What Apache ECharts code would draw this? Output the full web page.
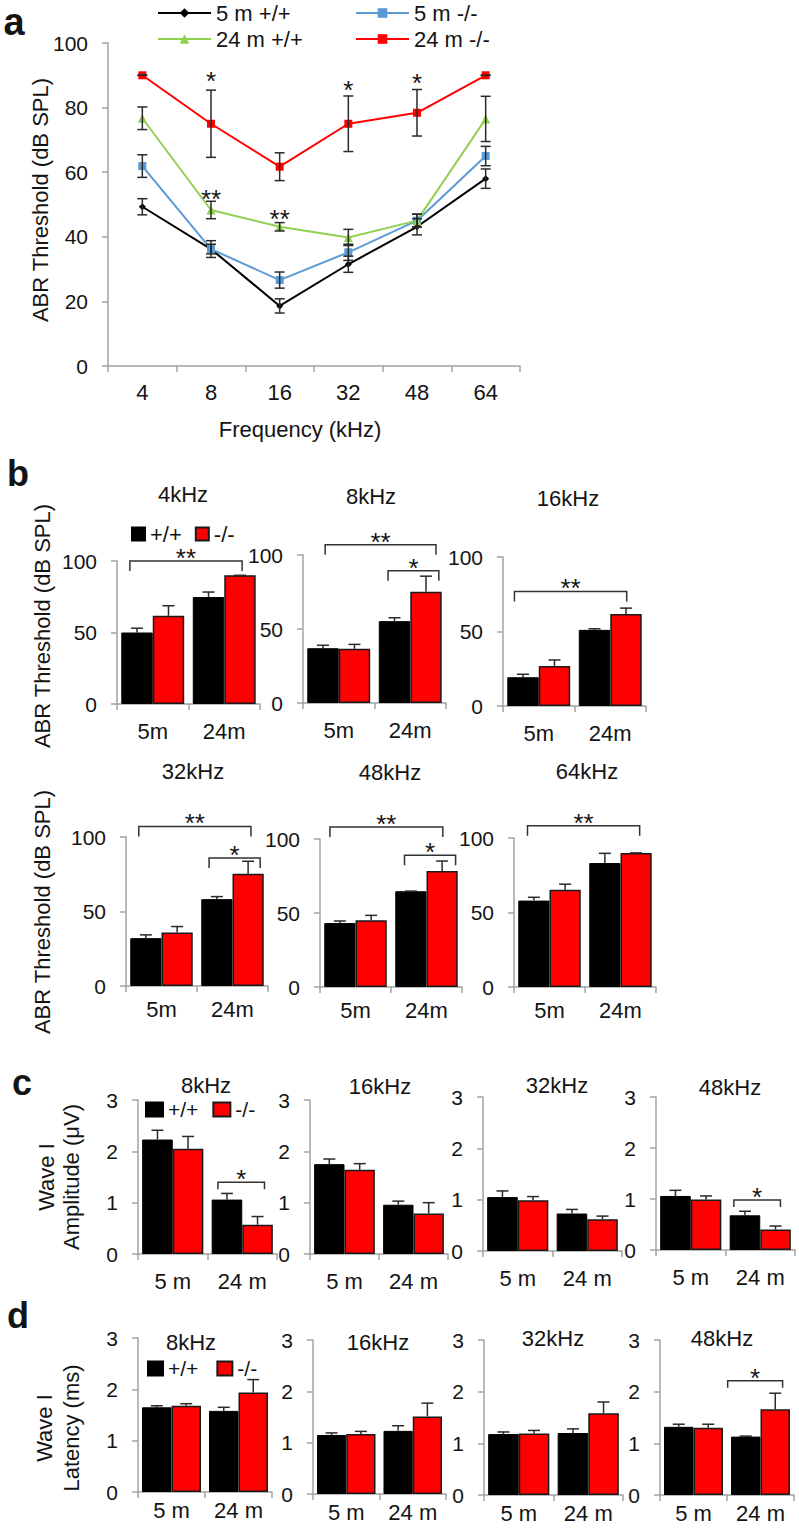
<!DOCTYPE html>
<html><head><meta charset="utf-8">
<script src="https://cdn.jsdelivr.net/npm/echarts/dist/echarts.min.js"></script>
<style>html,body{margin:0;padding:0;background:#fff}#c{width:799px;height:1533px}</style>
</head><body><div id="c"></div>
<script>
// ================= DATA =================
// Panel a: ABR threshold vs frequency
const freqA = ['4', '8', '16', '32', '48', '64'];
const a_wt5 = [49.3, 36.2, 18.6, 31.5, 43.1, 58.0];
const a_wt5Err = [2.5, 1.5, 2.2, 2.5, 2.5, 3.0];
const a_ko5 = [61.9, 36.2, 26.6, 35.2, 45.0, 65.0];
const a_ko5Err = [3.5, 2.6, 2.5, 2.5, 2.0, 3.0];
const a_wt24 = [76.7, 48.3, 43.1, 39.8, 45.0, 76.5];
const a_wt24Err = [3.5, 2.7, 1.3, 2.5, 2.0, 7.0];
const a_ko24 = [90, 75.0, 61.7, 75.0, 78.4, 90];
const a_ko24Err = [0, 10.4, 4.3, 8.6, 7.2, 0];
// significance marks in panel a: [category index, value, text]
const aStars = [[1, 90.1, '*'], [3, 87.3, '*'], [4, 89.5, '*'], [1, 53.6, '**'], [2, 47.5, '**']];

// Panel b: ABR threshold per frequency, by age
const agesB = ['5m', '24m'];
const bFreqs = ['4kHz', '8kHz', '16kHz', '32kHz', '48kHz', '64kHz'];
const bWT = [[50.0, 74.8], [37.0, 55.3], [19.3, 51.1], [32.1, 58.3], [43.2, 64.7], [58.0, 83.2]];
const bWTErr = [[3.0, 3.5], [2.0, 2.3], [2.0, 0.7], [2.2, 1.7], [1.4, 0.1], [2.2, 6.5]];
const bKO = [[61.7, 90.0], [36.6, 75.2], [26.9, 61.7], [35.9, 75.3], [45.1, 78.4], [65.2, 90.0]];
const bKOErr = [[7.0, 0], [3.0, 10.5], [4.0, 4.0], [4.0, 8.4], [3.3, 6.7], [3.8, 0]];
// brackets: [from (category units), to (category units), value, text]
const bBrackets = [
  [[-0.32, 1.25, 100, '**']],
  [[-0.19, 1.36, 107, '**'], [0.69, 1.40, 89.4, '*']],
  [[-0.34, 1.23, 76.9, '**']],
  [[-0.32, 1.26, 107.1, '**'], [0.67, 1.39, 85.9, '*']],
  [[-0.36, 1.23, 108.1, '**'], [0.69, 1.41, 89.0, '*']],
  [[-0.31, 1.27, 108.3, '**']]
];

// Panel c: Wave I amplitude
const agesC = ['5 m', '24 m'];
const cFreqs = ['8kHz', '16kHz', '32kHz', '48kHz'];
const cWT = [[2.23, 1.06], [1.75, 0.96], [1.05, 0.73], [1.06, 0.68]];
const cWTErr = [[0.18, 0.12], [0.10, 0.07], [0.12, 0.08], [0.11, 0.08]];
const cKO = [[2.05, 0.57], [1.64, 0.79], [0.99, 0.62], [0.99, 0.40]];
const cKOErr = [[0.24, 0.16], [0.12, 0.21], [0.07, 0.06], [0.07, 0.07]];
const cBrackets = [[[0.65, 1.32, 1.40, '*']], [], [], [[0.62, 1.29, 0.98, '*']]];

// Panel d: Wave I latency
const dFreqs = ['8kHz', '16kHz', '32kHz', '48kHz'];
const dWT = [[1.65, 1.58], [1.15, 1.23], [1.18, 1.20], [1.32, 1.13]];
const dWTErr = [[0.03, 0.07], [0.04, 0.10], [0.04, 0.08], [0.05, 0.01]];
const dKO = [[1.68, 1.94], [1.17, 1.51], [1.19, 1.58], [1.30, 1.66]];
const dKOErr = [[0.04, 0.25], [0.05, 0.26], [0.06, 0.22], [0.07, 0.31]];
const dBrackets = [[], [], [], [[0.51, 1.33, 2.21, '*']]];

// ================= STYLE / LAYOUT =================
const FONT = "'Liberation Sans', Arial, Helvetica, sans-serif";
const AX = '#a3a3a3';
const TXT = '#141414';
const ERR = '#2a2a2a';
const BAR_GAP = 0.12;
const STAR_SIZE = 26;

const gridA = {left: 108, top: 43, width: 412, height: 323};
const gridB = [
  {left: 117, top: 561, width: 143, height: 143},
  {left: 303, top: 555, width: 143, height: 148},
  {left: 503, top: 557, width: 143, height: 149},
  {left: 126, top: 837, width: 142, height: 149},
  {left: 320, top: 839, width: 142, height: 148},
  {left: 514, top: 838, width: 142, height: 149}
];
const gridC = [
  {left: 138, top: 1100, width: 139, height: 154},
  {left: 310, top: 1100, width: 138, height: 154},
  {left: 483, top: 1097, width: 139, height: 154},
  {left: 656, top: 1097, width: 139, height: 153}
];
const gridD = [
  {left: 138, top: 1338, width: 134, height: 154},
  {left: 313, top: 1340, width: 133, height: 154},
  {left: 484, top: 1340, width: 139, height: 155},
  {left: 660, top: 1340, width: 134, height: 155}
];

const grids = [], xAxes = [], yAxes = [], series = [];

function addGrid(r) {
  grids.push(Object.assign({containLabel: false, outerBoundsMode: 'none'}, r));
  return grids.length - 1;
}
function xAxisCfg(gi, cats, margin) {
  return {
    type: 'category', gridIndex: gi, data: cats, boundaryGap: true,
    axisLine: {show: true, lineStyle: {color: AX, width: 1.5}},
    axisTick: {show: true, length: 6, interval: 0, alignWithLabel: false, lineStyle: {color: AX, width: 1.5}},
    axisLabel: {interval: 0, fontSize: 22, color: TXT, fontFamily: FONT, margin: margin},
    splitLine: {show: false}
  };
}
function yAxisCfg(gi, max, interval) {
  return {
    type: 'value', gridIndex: gi, min: 0, max: max, interval: interval,
    axisLine: {show: true, lineStyle: {color: AX, width: 1.5}},
    axisTick: {show: true, length: 6, lineStyle: {color: AX, width: 1.5}},
    axisLabel: {fontSize: 21, color: TXT, fontFamily: FONT, margin: 20},
    splitLine: {show: false}
  };
}

function errRenderer(side, capHalf, upOnly) {
  return function (params, api) {
    const cat = api.value(0), m = api.value(1), e = api.value(2);
    const bw = api.size([1, 0])[0];
    const barW = bw * (1 - BAR_GAP) / 2;
    const c = api.coord([cat, m]);
    const x = c[0] + side * barW / 2;
    const top = api.coord([cat, m + e])[1];
    const bot = upOnly ? c[1] : api.coord([cat, m - e])[1];
    const st = {stroke: ERR, lineWidth: 1.5};
    const ch = [
      {type: 'line', shape: {x1: x, y1: top, x2: x, y2: bot}, style: st},
      {type: 'line', shape: {x1: x - capHalf, y1: top, x2: x + capHalf, y2: top}, style: st}
    ];
    if (!upOnly) ch.push({type: 'line', shape: {x1: x - capHalf, y1: bot, x2: x + capHalf, y2: bot}, style: st});
    return {type: 'group', children: ch};
  };
}

function bracketSeries(gi, list, drop, fontSize) {
  return {
    type: 'custom', xAxisIndex: gi, yAxisIndex: gi, clip: false, z: 6, silent: true,
    data: list.map(b => [0, b[2]]),
    renderItem: function (params, api) {
      const b = list[params.dataIndex];
      const bw = api.size([1, 0])[0];
      const c0 = api.coord([0, api.value(1)]);
      const x1 = c0[0] + b[0] * bw, x2 = c0[0] + b[1] * bw, y = c0[1];
      return {type: 'group', children: [
        {type: 'polyline', shape: {points: [[x1, y + drop], [x1, y], [x2, y], [x2, y + drop]]},
         style: {stroke: '#333', lineWidth: 1.5, fill: null}},
        {type: 'text', style: {text: b[3], x: (x1 + x2) / 2, y: y - 3, textAlign: 'center',
          textVerticalAlign: 'middle', fontSize: fontSize, fontFamily: FONT, fill: TXT}}
      ]};
    }
  };
}

function addBarPanel(rect, cats, wt, wtErr, ko, koErr, brackets, yMax, yInt, xMargin, drop, cap) {
  const gi = addGrid(rect);
  xAxes.push(xAxisCfg(gi, cats, xMargin));
  yAxes.push(yAxisCfg(gi, yMax, yInt));
  series.push({
    type: 'bar', name: '+/+', xAxisIndex: gi, yAxisIndex: gi, data: wt,
    barGap: '0%', barCategoryGap: (BAR_GAP * 100) + '%',
    itemStyle: {color: '#000', borderColor: '#000', borderWidth: 1}, z: 3, silent: true
  });
  series.push({
    type: 'bar', name: '-/-', xAxisIndex: gi, yAxisIndex: gi, data: ko,
    barGap: '0%', barCategoryGap: (BAR_GAP * 100) + '%',
    itemStyle: {color: '#ff0000', borderColor: '#1a1a1a', borderWidth: 1.5}, z: 3, silent: true
  });
  series.push({type: 'custom', xAxisIndex: gi, yAxisIndex: gi, z: 4, clip: false, silent: true,
    data: wt.map((v, i) => [i, v, wtErr[i]]), renderItem: errRenderer(-1, cap, true)});
  series.push({type: 'custom', xAxisIndex: gi, yAxisIndex: gi, z: 4, clip: false, silent: true,
    data: ko.map((v, i) => [i, v, koErr[i]]), renderItem: errRenderer(1, cap, true)});
  if (brackets.length) series.push(bracketSeries(gi, brackets, drop, STAR_SIZE));
}

// ---------- Panel a ----------
const gA = addGrid(gridA);
xAxes.push(xAxisCfg(gA, freqA, 15));
yAxes.push(yAxisCfg(gA, 100, 20));
const aSeries = [
  {name: '5 m +/+', data: a_wt5, err: a_wt5Err, color: '#000000', symbol: 'diamond', size: 7},
  {name: '5 m -/-', data: a_ko5, err: a_ko5Err, color: '#5b9bd5', symbol: 'rect', size: 8},
  {name: '24 m +/+', data: a_wt24, err: a_wt24Err, color: '#92d050', symbol: 'triangle', size: 9},
  {name: '24 m -/-', data: a_ko24, err: a_ko24Err, color: '#ff0000', symbol: 'rect', size: 8}
];
aSeries.forEach(s => {
  series.push({
    type: 'line', name: s.name, xAxisIndex: gA, yAxisIndex: gA, data: s.data,
    symbol: s.symbol, symbolSize: s.size, showSymbol: true,
    itemStyle: {color: s.color}, lineStyle: {color: s.color, width: 2}, z: 3, silent: true
  });
  series.push({type: 'custom', xAxisIndex: gA, yAxisIndex: gA, z: 4, clip: false, silent: true,
    data: s.data.map((v, i) => [i, v, s.err[i]]), renderItem: errRenderer(0, 5, false)});
});
series.push({
  type: 'custom', xAxisIndex: gA, yAxisIndex: gA, z: 6, clip: false, silent: true,
  data: aStars.map(s => [s[0], s[1]]),
  renderItem: function (params, api) {
    const c = api.coord([api.value(0), api.value(1)]);
    return {type: 'text', style: {text: aStars[params.dataIndex][2], x: c[0], y: c[1] + 6,
      textAlign: 'center', textVerticalAlign: 'middle', fontSize: STAR_SIZE, fontFamily: FONT, fill: TXT}};
  }
});

// ---------- Panel b ----------
bFreqs.forEach((f, k) => {
  addBarPanel(gridB[k], agesB, bWT[k], bWTErr[k], bKO[k], bKOErr[k], bBrackets[k], 100, 50,
    k < 3 ? 16 : 12, 10, 6);
});
// ---------- Panel c ----------
cFreqs.forEach((f, k) => {
  addBarPanel(gridC[k], agesC, cWT[k], cWTErr[k], cKO[k], cKOErr[k], cBrackets[k], 3, 1, 16, 7, 6);
});
// ---------- Panel d ----------
dFreqs.forEach((f, k) => {
  addBarPanel(gridD[k], agesC, dWT[k], dWTErr[k], dKO[k], dKOErr[k], dBrackets[k], 3, 1, 7, 7, 6);
});

// ---------- Legends ----------
const legTxt = {fontSize: 22, fontFamily: FONT, color: TXT};
const legends = [
  {data: ['5 m +/+'], left: 157, top: 2, padding: 0, itemWidth: 53, itemHeight: 12, textStyle: legTxt, selectedMode: false},
  {data: ['5 m -/-'], left: 355, top: 2, padding: 0, itemWidth: 53, itemHeight: 12, textStyle: legTxt, selectedMode: false},
  {data: ['24 m +/+'], left: 157, top: 28, padding: 0, itemWidth: 53, itemHeight: 12, textStyle: legTxt, selectedMode: false},
  {data: ['24 m -/-'], left: 355, top: 28, padding: 0, itemWidth: 53, itemHeight: 12, textStyle: legTxt, selectedMode: false},
  {data: ['+/+', '-/-'], left: 131, top: 523, padding: 0, icon: 'rect', itemWidth: 13, itemHeight: 13, itemGap: 13, textStyle: legTxt, selectedMode: false},
  {data: ['+/+', '-/-'], left: 145, top: 1099, padding: 0, icon: 'rect', itemWidth: 17, itemHeight: 14, itemGap: 14, textStyle: {fontSize: 21, fontFamily: FONT, color: TXT}, selectedMode: false},
  {data: ['+/+', '-/-'], left: 147, top: 1358, padding: 0, icon: 'rect', itemWidth: 15, itemHeight: 14, itemGap: 18, textStyle: {fontSize: 21, fontFamily: FONT, color: TXT}, selectedMode: false}
];

// ---------- Text (labels, titles) ----------
function txt(t, x, y, size, opts) {
  opts = opts || {};
  return {
    type: 'text', x: x, y: y, rotation: opts.rot ? Math.PI / 2 : 0, silent: true,
    style: {text: t, textAlign: 'center', textVerticalAlign: 'middle', fontSize: size,
      fontFamily: FONT, fontWeight: opts.bold ? 'bold' : 'normal', fill: TXT,
      lineHeight: opts.lh || size * 1.15}
  };
}
const titlePos = {
  b: [[183, 494], [371, 496], [568, 498], [193, 771], [390, 772], [587, 771]],
  c: [[206, 1085], [380, 1086], [557, 1085], [730, 1087]],
  d: [[191, 1342], [378, 1342], [553, 1338], [722, 1338]]
};
const graphics = [
  txt('a', 14, 22, 38, {bold: true}),
  txt('b', 18, 473, 36, {bold: true}),
  txt('c', 22, 1082, 36, {bold: true}),
  txt('d', 18, 1315, 36, {bold: true}),
  txt('Frequency (kHz)', 300, 429, 22),
  txt('ABR Threshold (dB SPL)', 40, 200, 22, {rot: true}),
  txt('ABR Threshold (dB SPL)', 42, 626, 22, {rot: true}),
  txt('ABR Threshold (dB SPL)', 42, 912, 22, {rot: true}),
  txt('Wave I\nAmplitude (\u03bcV)', 59, 1177, 22, {rot: true, lh: 25}),
  txt('Wave I\nLatency (ms)', 58, 1428, 22, {rot: true, lh: 27})
];
bFreqs.forEach((f, k) => graphics.push(txt(f, titlePos.b[k][0], titlePos.b[k][1], 22)));
cFreqs.forEach((f, k) => graphics.push(txt(f, titlePos.c[k][0], titlePos.c[k][1], 22)));
dFreqs.forEach((f, k) => graphics.push(txt(f, titlePos.d[k][0], titlePos.d[k][1], 22)));

const chart = echarts.init(document.getElementById('c'), null, {renderer: 'svg', width: 799, height: 1533});
chart.setOption({
  animation: false,
  backgroundColor: '#ffffff',
  textStyle: {fontFamily: FONT},
  tooltip: {show: false},
  grid: grids,
  xAxis: xAxes,
  yAxis: yAxes,
  legend: legends,
  series: series,
  graphic: graphics
});
</script></body></html>
